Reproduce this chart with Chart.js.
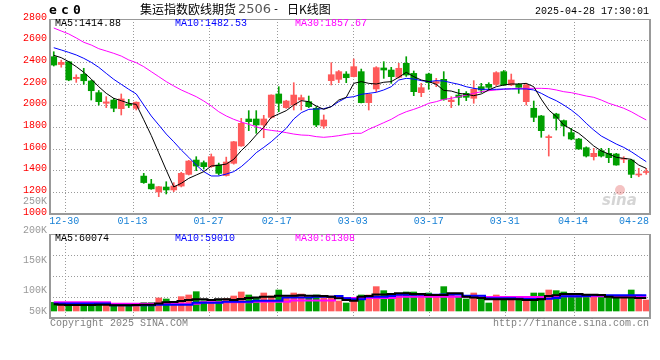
<!DOCTYPE html>
<html>
<head>
<meta charset="utf-8">
<script src="https://cdn.jsdelivr.net/npm/chart.js@4/dist/chart.umd.min.js"></script>
<style>
  html, body { margin: 0; padding: 0; background: #fff; }
  #wrap { position: relative; width: 660px; height: 360px; }
  #wrap canvas { position: absolute; left: 0; top: 0; }
</style>
</head>
<body>
<div id="wrap">
  <canvas id="kline" width="660" height="360"></canvas>
  <canvas id="vol" width="660" height="360"></canvas>
</div>
<script>
/* ---- 데이터: 집운지수(유럽선) 선물 2506 일봉 ---- */
const dates = [
  '12-26','12-27','12-30','12-31','01-02','01-03','01-06','01-07','01-08','01-09',
  '01-10','01-13','01-14','01-15','01-16','01-17','01-20','01-21','01-22','01-23',
  '01-24','01-27','02-05','02-06','02-07','02-10','02-11','02-12','02-13','02-14',
  '02-17','02-18','02-19','02-20','02-21','02-24','02-25','02-26','02-27','02-28',
  '03-03','03-04','03-05','03-06','03-07','03-10','03-11','03-12','03-13','03-14',
  '03-17','03-18','03-19','03-20','03-21','03-24','03-25','03-26','03-27','03-28',
  '03-31','04-01','04-02','04-03','04-07','04-08','04-09','04-10','04-11','04-14',
  '04-15','04-16','04-17','04-18','04-21','04-22','04-23','04-24','04-25','04-28'
];
const tickDates = ['12-30','01-13','01-27','02-17','03-03','03-17','03-31','04-14','04-28'];

const opens = [
  2452,2380,2405,2250,2290,2228,2120,2022,2052,1972,
  2015,1975,1350,1277,1203,1249,1222,1258,1366,1498,
  1474,1437,1452,1355,1468,1628,1877,1877,1822,1892,
  2108,1982,2006,2052,2037,1976,1812,2231,2243,2292,
  2268,2314,2028,2154,2348,2329,2262,2391,2298,2120,
  2292,2206,2243,2037,2098,2114,2068,2175,2197,2197,
  2314,2191,2197,2037,1976,1905,1705,1923,1862,1751,
  1692,1612,1529,1585,1560,1554,1505,1498,1360,1383
];
const highs = [
  2498,2420,2410,2285,2345,2235,2140,2083,2068,2108,
  2058,2035,1375,1320,1255,1298,1289,1385,1495,1529,
  1490,1554,1470,1525,1670,1883,1954,1954,1911,2100,
  2175,2050,2212,2098,2089,1991,1914,2397,2325,2314,
  2431,2338,2110,2360,2406,2354,2391,2452,2320,2206,
  2300,2252,2314,2083,2151,2130,2231,2206,2212,2314,
  2325,2292,2206,2206,2043,1910,1729,1930,1868,1791,
  1698,1620,1606,1606,1606,1560,1529,1505,1421,1421
];
const lows = [
  2366,2355,2230,2215,2197,2052,2005,1982,1944,1914,
  1982,1960,1283,1228,1160,1185,1206,1250,1360,1400,
  1415,1430,1360,1350,1460,1625,1769,1745,1704,1883,
  1944,1975,1960,1960,1982,1806,1791,2191,2212,2212,
  2265,2025,1960,2129,2252,2206,2255,2270,2092,2083,
  2151,2175,2050,1982,2006,2046,2022,2120,2145,2185,
  2185,2185,2114,2006,1852,1708,1535,1775,1720,1685,
  1597,1526,1498,1526,1474,1450,1474,1335,1344,1366
];
const closes = [
  2375,2400,2237,2262,2230,2138,2037,2035,1976,2062,
  2003,2032,1290,1232,1252,1222,1258,1375,1489,1443,
  1437,1529,1375,1480,1667,1837,1852,1822,1877,2098,
  2022,2043,2098,2074,1991,1822,1868,2286,2314,2258,
  2360,2028,2105,2351,2329,2268,2345,2283,2129,2166,
  2212,2222,2058,2052,2077,2077,2151,2145,2169,2305,
  2191,2237,2169,2191,1892,1769,1714,1883,1812,1692,
  1600,1535,1560,1535,1520,1452,1514,1366,1369,1391
];
const ma5 = [
  2465,2443,2406,2360,2308,2246,2175,2114,2068,2046,
  2022,2012,1870,1725,1565,1405,1250,1283,1329,1360,
  1391,1443,1450,1461,1505,1585,1650,1729,1800,1892,
  1923,1954,2006,2046,2037,1997,1966,1991,2052,2077,
  2206,2222,2206,2200,2216,2222,2262,2308,2268,2237,
  2222,2197,2141,2135,2114,2105,2092,2108,2145,2175,
  2191,2200,2200,2206,2175,2060,1960,1900,1822,1782,
  1745,1689,1628,1582,1554,1523,1514,1505,1452,1421
];
const ma10 = [
  2535,2514,2492,2468,2437,2400,2354,2298,2243,2197,
  2151,2108,2006,1905,1822,1738,1667,1591,1523,1452,
  1391,1351,1351,1369,1391,1437,1498,1566,1615,1667,
  1729,1791,1877,1935,1966,1969,1972,1991,2037,2074,
  2083,2105,2114,2123,2145,2175,2237,2252,2246,2231,
  2222,2231,2228,2212,2197,2175,2160,2151,2151,2151,
  2154,2154,2154,2154,2145,2114,2077,2046,2006,1960,
  1905,1837,1775,1720,1683,1646,1615,1575,1529,1483
];
const ma30 = [
  2717,2689,2662,2625,2585,2560,2526,2505,2483,2458,
  2422,2397,2360,2314,2268,2222,2182,2145,2114,2083,
  2043,1997,1944,1905,1874,1849,1828,1806,1782,1772,
  1763,1751,1738,1729,1726,1714,1708,1714,1723,1735,
  1745,1745,1782,1812,1843,1874,1914,1944,1966,1991,
  2022,2037,2058,2068,2083,2098,2114,2129,2138,2145,
  2151,2157,2160,2160,2160,2160,2157,2145,2129,2120,
  2105,2089,2077,2052,2022,2000,1976,1944,1905,1868
];
/* 거래량 (K 단위) */
const volumes = [
  84.4,80.0,82.8,80.0,83.9,84.4,83.9,82.8,80.0,82.8,
  80.0,81.7,83.9,83.9,91.7,90.0,85.6,93.9,96.7,102.2,
  87.2,85.0,89.4,90.6,95.0,101.7,96.7,92.8,100.0,95.0,
  105.0,92.8,100.0,98.3,91.1,96.7,93.9,95.0,86.7,83.3,
  86.7,96.7,96.7,110.6,103.9,95.6,99.4,101.7,101.7,96.7,
  100.0,96.7,110.6,96.7,93.9,90.0,100.0,90.0,83.3,96.7,
  91.1,89.4,89.4,89.4,100.0,100.0,105.0,103.9,101.7,96.7,
  96.7,96.7,96.7,93.9,93.9,91.1,93.9,105.0,96.7,88.3
];
const volMa5 = [
  81.1,80.5,80.0,80.0,80.0,80.0,80.5,80.5,79.4,79.4,
  79.4,80.0,80.5,80.5,82.7,84.4,85.0,86.6,88.3,89.4,
  89.4,88.3,89.4,89.4,88.3,90.0,91.6,92.7,93.9,93.9,
  95.5,95.5,95.5,96.1,95.5,95.5,95.0,93.9,91.1,88.3,
  87.2,93.9,95.0,97.7,97.7,98.3,99.4,99.4,98.3,98.3,
  96.6,96.6,96.6,99.4,99.4,93.9,92.7,91.6,89.4,89.4,
  89.4,89.4,89.4,88.3,88.3,89.4,95.0,96.1,98.3,98.3,
  98.3,97.2,97.2,96.6,93.9,92.7,92.7,92.7,91.6,91.6
];
const volMa10 = [
  82.7,82.7,82.7,82.7,82.7,82.7,82.7,82.7,79.4,79.4,
  79.4,79.4,79.4,79.4,80.5,80.5,80.5,80.5,80.5,83.9,
  83.9,83.9,83.9,85.5,85.5,85.5,85.5,87.2,87.2,87.2,
  87.2,92.7,92.7,92.7,92.7,93.9,93.9,93.9,95.0,91.1,
  89.4,89.4,93.9,93.9,93.9,95.0,97.2,97.2,97.2,97.2,
  97.2,97.2,97.7,97.7,97.7,95.5,95.5,95.5,91.1,91.1,
  91.1,91.1,90.5,90.0,90.0,90.0,90.5,91.6,94.4,94.4,
  94.4,95.0,96.1,96.1,96.1,96.1,96.1,96.1,96.1,96.1
];
const volMa30 = [
  84.4,84.4,84.4,84.4,84.4,84.4,84.4,84.4,82.2,82.2,
  82.2,82.2,82.2,82.2,82.2,82.2,82.2,82.2,82.2,82.2,
  84.4,84.4,84.4,84.4,84.4,84.4,84.4,85.5,85.5,85.5,
  85.5,85.5,87.7,87.7,87.7,87.7,87.7,87.7,91.6,91.6,
  91.6,91.6,91.6,91.6,91.6,91.6,93.9,93.9,93.9,93.9,
  93.9,93.9,93.9,93.9,93.9,93.9,93.9,93.3,93.3,93.3,
  93.3,93.3,93.3,93.3,93.3,93.3,94.4,94.4,94.4,94.4,
  94.4,94.4,94.4,94.4,94.4,94.4,94.4,94.4,94.4,94.4
];
const priceTicks = [2800, 2600, 2400, 2200, 2000, 1800, 1600, 1400, 1200, 1000];
const volTicks = [200, 150, 100, 50];

const PRICE_MIN = 1000, PRICE_MAX = 2800;
const VOL_MIN = 58.33, VOL_MAX = 198.33, VOL_BASE = 70;

const RED = '#ff5a5a';
const GREEN = '#009f00';
const GRID = '#9a9a9a';
const MONO = '10px "Liberation Mono", "DejaVu Sans Mono", monospace';
const CJK = '12px "Noto Sans CJK SC", sans-serif';

const candleColors = closes.map(function (c, i) { return c >= opens[i] ? RED : GREEN; });
const wicks = lows.map(function (l, i) { return [l, highs[i]]; });
const bodies = opens.map(function (o, i) { return [Math.min(o, closes[i]), Math.max(o, closes[i])]; });
const tickIdx = tickDates.map(function (d) { return dates.indexOf(d); });

function lineSet(data, color, width, stepped) {
  return { type: 'line', data: data, borderColor: color, borderWidth: width, pointRadius: 0,
           tension: 0, fill: false, stepped: stepped || false, order: 0 };
}

function xScales() {
  return {
    x: { type: 'category', offset: true, display: false },
    xg: {
      type: 'linear', position: 'bottom', min: 0, max: dates.length - 1, offset: false,
      afterBuildTicks: function (s) { s.ticks = tickIdx.map(function (v) { return { value: v }; }); },
      grid: { color: GRID, lineWidth: 1, drawTicks: false, offset: false },
      border: { display: false, dash: [1, 2] },
      ticks: { display: false }
    }
  };
}

function drawFrame(ctx, a) {
  ctx.strokeStyle = '#999';
  ctx.lineWidth = 2;
  ctx.beginPath();
  ctx.moveTo(a.left, a.top); ctx.lineTo(a.left, a.bottom);
  ctx.lineTo(a.right, a.bottom); ctx.lineTo(a.right, a.top);
  ctx.stroke();
  ctx.lineWidth = 1;
  ctx.beginPath();
  ctx.moveTo(a.left, a.top + 0.5); ctx.lineTo(a.right, a.top + 0.5);
  ctx.stroke();
}

function txt(ctx, s, x, y, color, align, font) {
  ctx.font = font || MONO;
  ctx.fillStyle = color;
  ctx.textAlign = align || 'left';
  ctx.textBaseline = 'middle';
  ctx.fillText(s, x, y);
}

const klineDecor = {
  id: 'klineDecor',
  afterDraw: function (chart) {
    const ctx = chart.ctx, a = chart.chartArea, ys = chart.scales.y, xg = chart.scales.xg;
    ctx.save();
    drawFrame(ctx, a);

    priceTicks.forEach(function (v) { txt(ctx, String(v), 47, ys.getPixelForValue(v) - 2, '#ff0000', 'right'); });
    txt(ctx, '250K', 47, 201, '#999', 'right');

    tickDates.forEach(function (d, i) {
      const px = xg.getPixelForValue(tickIdx[i]);
      if (i === tickDates.length - 1) txt(ctx, d, 649, 221.5, '#1a82d6', 'right');
      else txt(ctx, d, px - 1, 221.5, '#1a82d6', 'center');
    });

    txt(ctx, 'MA5:1414.88', 55, 23.5, '#000');
    txt(ctx, 'MA10:1482.53', 175, 23.5, '#0000ff');
    txt(ctx, 'MA30:1857.67', 295, 23.5, '#ff00ff');

    // header
    const bold = 'bold 13px "DejaVu Sans Mono", monospace';
    txt(ctx, 'e', 49, 11, '#000', 'left', bold);
    txt(ctx, 'c', 61, 11, '#000', 'left', bold);
    txt(ctx, '0', 73, 11, '#000', 'left', bold);
    txt(ctx, '集运指数欧线期货', 140, 9, '#000', 'left', CJK);
    txt(ctx, '2506', 238, 9.5, '#555', 'left', '13px "DejaVu Sans", sans-serif');
    txt(ctx, '-', 273, 9.5, '#000', 'left', MONO);
    txt(ctx, '日K线图', 287, 9, '#000', 'left', CJK);
    txt(ctx, '2025-04-28 17:30:01', 649, 11, '#000', 'right');

    // sina watermark
    ctx.globalAlpha = 0.35;
    ctx.fillStyle = '#e05050';
    ctx.beginPath(); ctx.arc(620, 190, 5, 0, Math.PI * 2); ctx.fill();
    txt(ctx, 'sina', 602, 201, '#888', 'left', 'italic bold 15px "DejaVu Sans", sans-serif');
    ctx.globalAlpha = 1;
    ctx.restore();
  }
};

const volDecor = {
  id: 'volDecor',
  afterDraw: function (chart) {
    const ctx = chart.ctx, a = chart.chartArea, ys = chart.scales.y;
    ctx.save();
    drawFrame(ctx, a);
    volTicks.forEach(function (v) {
      const py = Math.min(ys.getPixelForValue(v) - 2.5, a.bottom - 7);
      txt(ctx, v + 'K', 47, py, '#999', 'right');
    });
    txt(ctx, 'MA5:60074', 55, 238.5, '#000');
    txt(ctx, 'MA10:59010', 175, 238.5, '#0000ff');
    txt(ctx, 'MA30:61308', 295, 238.5, '#ff00ff');
    txt(ctx, 'Copyright 2025 SINA.COM', 50, 323.5, '#808080');
    txt(ctx, 'http://finance.sina.com.cn', 649, 323.5, '#808080', 'right');
    ctx.restore();
  }
};

const baseOptions = {
  responsive: false, animation: false, devicePixelRatio: 1,
  plugins: { legend: { display: false }, tooltip: { enabled: false } }
};

const priceScales = xScales();
priceScales.y = {
  min: PRICE_MIN, max: PRICE_MAX,
  ticks: { display: false, stepSize: 200 },
  grid: { color: GRID, lineWidth: 1, drawTicks: false },
  border: { display: false, dash: [1, 2] }
};

new Chart(document.getElementById('kline'), {
  type: 'bar',
  data: {
    labels: dates,
    datasets: [
      lineSet(ma5, '#000000', 1),
      lineSet(ma10, '#0000ff', 1),
      lineSet(ma30, '#ff00ff', 1),
      { data: bodies, backgroundColor: candleColors, barThickness: 6, minBarLength: 1, grouped: false, order: 1 },
      { data: wicks, backgroundColor: candleColors, barThickness: 1, grouped: false, order: 2 }
    ]
  },
  options: Object.assign({}, baseOptions, {
    layout: { padding: { left: 50, right: 10, top: 19, bottom: 146 } },
    scales: priceScales
  }),
  plugins: [klineDecor]
});

const volScales = xScales();
volScales.y = {
  min: VOL_MIN, max: VOL_MAX,
  afterBuildTicks: function (s) {
    const step = (VOL_MAX - VOL_MIN) / 4;
    s.ticks = [1, 2, 3].map(function (k) { return { value: VOL_MIN + k * step }; });
  },
  ticks: { display: false },
  grid: { color: GRID, lineWidth: 1, drawTicks: false },
  border: { display: false, dash: [1, 2] }
};

new Chart(document.getElementById('vol'), {
  type: 'bar',
  data: {
    labels: dates,
    datasets: [
      lineSet(volMa5, '#000000', 2, 'middle'),
      lineSet(volMa10, '#0000ff', 2, 'middle'),
      lineSet(volMa30, '#ff00ff', 2, 'middle'),
      { data: volumes, backgroundColor: candleColors, barThickness: 6, base: VOL_BASE, order: 1 }
    ]
  },
  options: Object.assign({}, baseOptions, {
    layout: { padding: { left: 50, right: 10, top: 234, bottom: 42 } },
    scales: volScales
  }),
  plugins: [volDecor]
});
</script>
</body>
</html>
